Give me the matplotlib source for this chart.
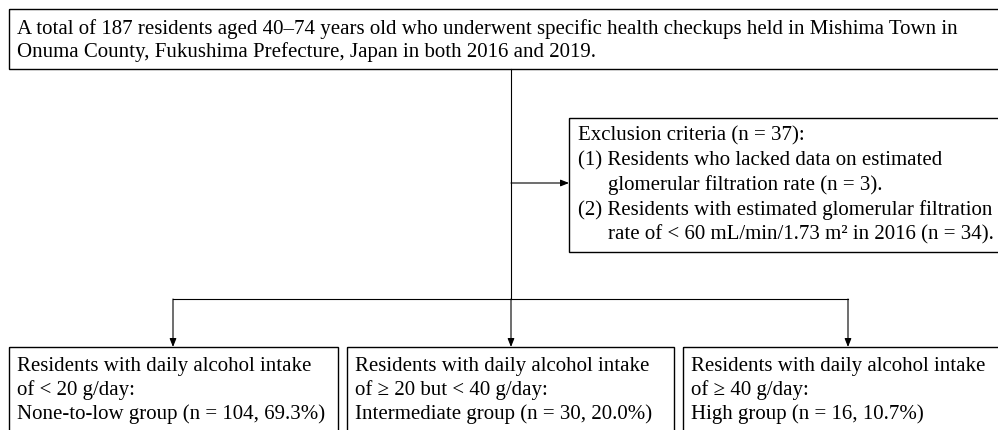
import matplotlib
matplotlib.use("Agg")
import matplotlib.pyplot as plt
from matplotlib.patches import Rectangle

# texts of the flowchart
top_lines = [
    "A total of 187 residents aged 40\u201374 years old who underwent specific health checkups held in Mishima Town in",
    "Onuma County, Fukushima Prefecture, Japan in both 2016 and 2019.",
]
excl_lines = [
    "Exclusion criteria (n = 37):",
    "(1) Residents who lacked data on estimated",
    "glomerular filtration rate (n = 3).",
    "(2) Residents with estimated glomerular filtration",
    "rate of < 60 mL/min/1.73 m\u00b2 in 2016 (n = 34).",
]
excl_indent = [False, False, True, False, True]
group_lines = [
    ["Residents with daily alcohol intake", "of < 20 g/day:", "None-to-low group (n = 104, 69.3%)"],
    ["Residents with daily alcohol intake", "of \u2265 20 but < 40 g/day:", "Intermediate group (n = 30, 20.0%)"],
    ["Residents with daily alcohol intake", "of \u2265 40 g/day:", "High group (n = 16, 10.7%)"],
]

fam = ["Liberation Serif", "DejaVu Serif"]
fs = 15
lw_box = 1.0
lw_line = 0.8

fig = plt.figure(figsize=(9.98, 4.30), dpi=100)
ax = fig.add_axes([0, 0, 1, 1])
ax.set_xlim(0, 998)
ax.set_ylim(430, 0)
ax.axis("off")


def box(x0, y0, x1, y1):
    ax.add_patch(Rectangle((x0, y0), x1 - x0, y1 - y0, fill=False,
                           edgecolor="black", linewidth=lw_box, clip_on=True))


def arrow(x0, y0, x1, y1):
    ax.annotate("", xy=(x1, y1), xytext=(x0, y0),
                arrowprops=dict(arrowstyle="-|>,head_length=0.5,head_width=0.2",
                                color="black", lw=lw_line, shrinkA=0, shrinkB=0))


# top box
box(9, 9, 1010, 69)
for i, t in enumerate(top_lines):
    ax.text(17, 29 + i * 23, t, family=fam, fontsize=fs, va="center", ha="left")

# trunk and exclusion branch
ax.plot([511, 511], [69, 299], color="black", lw=lw_line)
arrow(511, 183, 569, 183)
box(569, 118, 1010, 252)
for i, (t, ind) in enumerate(zip(excl_lines, excl_indent)):
    ax.text(608 if ind else 578, 136 + i * 24.6, t, family=fam, fontsize=fs,
            va="center", ha="left")

# split to the three groups
ax.plot([173, 848], [299, 299], color="black", lw=lw_line)
arrow(511, 299, 511, 347)
arrow(173, 299, 173, 347)
arrow(848, 299, 848, 347)

box_x = [(9, 338), (347, 674), (683, 1012)]
for (x0, x1), lines in zip(box_x, group_lines):
    box(x0, 347, x1, 440)
    for i, t in enumerate(lines):
        ax.text(x0 + 8, 366 + i * 24.3, t, family=fam, fontsize=fs,
                va="center", ha="left")

fig.savefig("out.png", dpi=100, facecolor="white")
